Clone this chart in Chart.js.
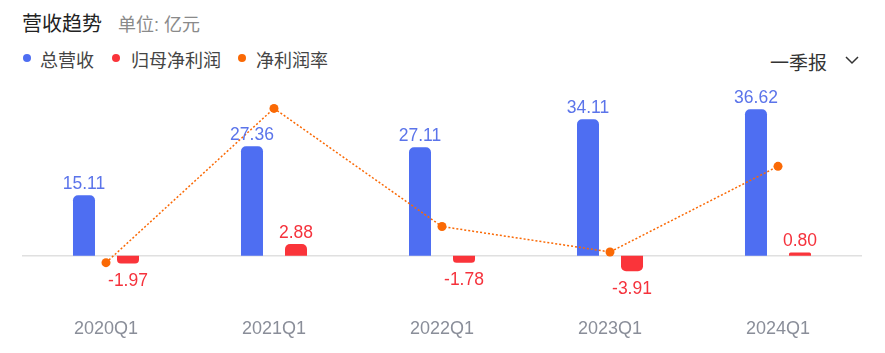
<!DOCTYPE html>
<html>
<head>
<meta charset="utf-8">
<script src="https://cdn.jsdelivr.net/npm/chart.js@4/dist/chart.umd.min.js"></script>
<style>
  body { margin: 0; width: 885px; height: 353px; background: #fff; overflow: hidden;
         font-family: "Liberation Sans", "Noto Sans CJK SC", sans-serif; position: relative; }
  .abs { position: absolute; white-space: nowrap; }
  #title { left: 22px; top: 8px; font-size: 20px; color: #222; }
  #unit { left: 118px; top: 10px; font-size: 18px; color: #8a8a8a; }
  .dot { position: absolute; width: 8px; height: 8px; border-radius: 50%; top: 54px; }
  .lg { top: 46px; font-size: 18px; color: #444; }
  #period { left: 770px; top: 48px; font-size: 19px; color: #333; }
  #chev { left: 845px; top: 56px; }
  #wrap { position: absolute; left: 0; top: 90px; width: 885px; height: 290px; }
</style>
</head>
<body>
<div class="abs" id="title">营收趋势</div>
<div class="abs" id="unit">单位: 亿元</div>

<div class="dot" style="left:23px;background:#4e6ef2"></div>
<div class="abs lg" style="left:40px">总营收</div>
<div class="dot" style="left:112px;background:#fa343a"></div>
<div class="abs lg" style="left:131px">归母净利润</div>
<div class="dot" style="left:238px;background:#fa6905"></div>
<div class="abs lg" style="left:256px">净利润率</div>

<div class="abs" id="period">一季报</div>
<svg class="abs" id="chev" width="14" height="9"><polyline points="1,1 7,7 13,1" fill="none" stroke="#333" stroke-width="1.5"/></svg>

<div id="wrap"><canvas id="chart"></canvas></div>

<script>
// 数据
const quarters = ['2020Q1', '2021Q1', '2022Q1', '2023Q1', '2024Q1'];
const revenue = [15.11, 27.36, 27.11, 34.11, 36.62];      // 总营收
const netProfit = [-1.97, 2.88, -1.78, -3.91, 0.80];      // 归母净利润
const netMargin = [-13.04, 10.53, -7.52, -11.40, 1.68];   // 净利润率 (%)

const blue = '#4e6ef2';
const red = '#fa343a';
const orange = '#fa6905';

// 零线
const zeroLine = {
    id: 'zeroLine',
    beforeDatasetsDraw(chart) {
        const ctx = chart.ctx;
        const y = chart.scales.y.getPixelForValue(0);
        ctx.save();
        ctx.strokeStyle = '#e0e0e0';
        ctx.lineWidth = 1.5;
        ctx.beginPath();
        ctx.moveTo(chart.chartArea.left, y);
        ctx.lineTo(chart.chartArea.right, y);
        ctx.stroke();
        ctx.restore();
    }
};

// 柱子上的数值
const barLabels = {
    id: 'barLabels',
    afterDatasetsDraw(chart) {
        const ctx = chart.ctx;
        ctx.save();
        ctx.font = '17.5px "Liberation Sans", Arial, sans-serif';
        ctx.textAlign = 'center';
        ctx.textBaseline = 'alphabetic';
        chart.data.datasets.forEach((ds, i) => {
            if (ds.type !== 'bar') return;
            const meta = chart.getDatasetMeta(i);
            ctx.fillStyle = ds.labelColor;
            meta.data.forEach((bar, j) => {
                const v = ds.data[j];
                const y = v >= 0 ? bar.y - 6 : bar.y + 22.5;
                ctx.fillText(v.toFixed(2), bar.x, y);
            });
        });
        ctx.restore();
    }
};

new Chart(document.getElementById('chart'), {
    data: {
        labels: quarters,
        datasets: [
            {
                type: 'line',
                label: '净利润率',
                data: netMargin,
                yAxisID: 'y2',
                borderColor: orange,
                borderWidth: 1.5,
                borderDash: [2, 2],
                pointRadius: 4.5,
                pointBackgroundColor: orange,
                pointBorderWidth: 0,
                tension: 0,
                order: 0
            },
            {
                type: 'bar',
                label: '总营收',
                data: revenue,
                backgroundColor: blue,
                labelColor: '#5b74ea',
                borderRadius: 5,
                borderSkipped: 'start',
                categoryPercentage: 0.524,
                barPercentage: 0.5,
                order: 1
            },
            {
                type: 'bar',
                label: '归母净利润',
                data: netProfit,
                backgroundColor: red,
                labelColor: '#f5323c',
                borderRadius: 5,
                borderSkipped: 'start',
                categoryPercentage: 0.524,
                barPercentage: 0.5,
                order: 1
            }
        ]
    },
    options: {
        responsive: true,
        maintainAspectRatio: false,
        animation: false,
        layout: { padding: { left: 22, right: 23, top: 10, bottom: 18 } },
        plugins: { legend: { display: false }, tooltip: { enabled: false } },
        scales: {
            x: {
                grid: { display: false, drawTicks: false },
                border: { display: false },
                ticks: { color: '#8a8e99', font: { size: 18, family: '"Liberation Sans", Arial, sans-serif' }, padding: 22 }
            },
            y: { display: false, min: -10.2, max: 38.94 },
            y2: { display: false, min: -18.19, max: 11.81 }
        }
    },
    plugins: [zeroLine, barLabels]
});
</script>
</body>
</html>
